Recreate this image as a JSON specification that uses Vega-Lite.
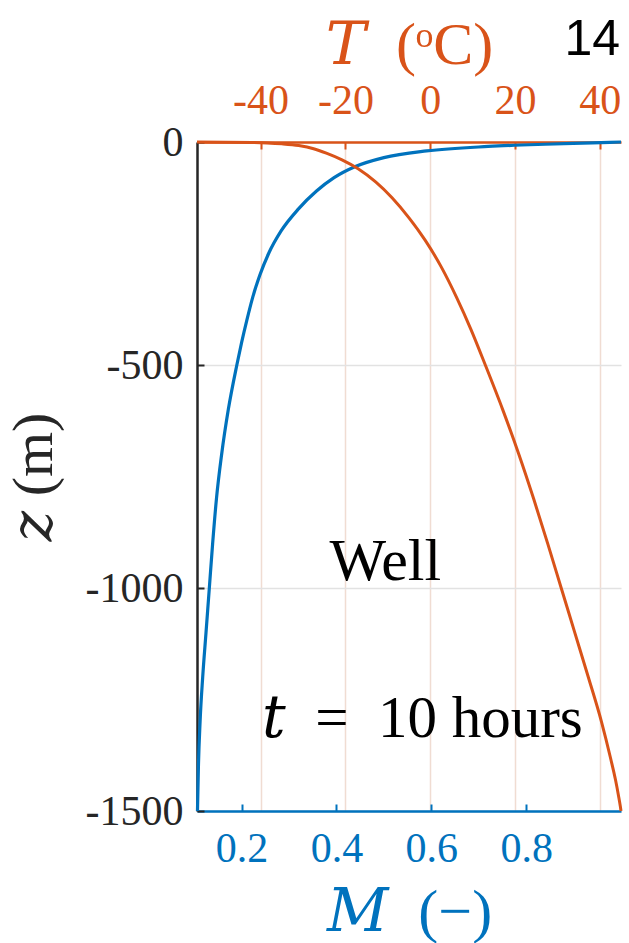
{
  "$schema": "https://vega.github.io/schema/vega-lite/v6.json",
  "width": 424,
  "height": 669,
  "autosize": "none",
  "padding": {"left": 197, "top": 142, "right": 8, "bottom": 132},
  "background": "white",
  "config": {"view": {"stroke": null}, "font": "Liberation Serif"},
  "datasets": {
    "Mprof": [
      {"z": 0, "M": 1.0}, {"z": -2, "M": 0.94}, {"z": -5, "M": 0.84}, {"z": -10, "M": 0.72},
      {"z": -20, "M": 0.59}, {"z": -35, "M": 0.5}, {"z": -55, "M": 0.44}, {"z": -80, "M": 0.395},
      {"z": -110, "M": 0.358}, {"z": -150, "M": 0.32}, {"z": -200, "M": 0.283}, {"z": -250, "M": 0.257},
      {"z": -300, "M": 0.238}, {"z": -350, "M": 0.223}, {"z": -400, "M": 0.211}, {"z": -450, "M": 0.2},
      {"z": -500, "M": 0.19}, {"z": -600, "M": 0.172}, {"z": -700, "M": 0.158}, {"z": -800, "M": 0.147},
      {"z": -900, "M": 0.139}, {"z": -1000, "M": 0.132}, {"z": -1100, "M": 0.125}, {"z": -1200, "M": 0.118},
      {"z": -1300, "M": 0.1125}, {"z": -1400, "M": 0.109}, {"z": -1500, "M": 0.107}
    ],
    "Tprof": [
      {"z": 0, "T": -55}, {"z": -1, "T": -42}, {"z": -2, "T": -38.5}, {"z": -4, "T": -35},
      {"z": -8, "T": -31}, {"z": -15, "T": -27.5}, {"z": -25, "T": -24.5}, {"z": -40, "T": -20.8},
      {"z": -60, "T": -17}, {"z": -90, "T": -12.8}, {"z": -125, "T": -9}, {"z": -170, "T": -5},
      {"z": -220, "T": -1.2}, {"z": -280, "T": 2.6}, {"z": -350, "T": 6.3}, {"z": -420, "T": 9.6},
      {"z": -500, "T": 13.0}, {"z": -600, "T": 17.1}, {"z": -700, "T": 20.9}, {"z": -800, "T": 24.4},
      {"z": -900, "T": 27.7}, {"z": -1000, "T": 30.9}, {"z": -1100, "T": 34.1}, {"z": -1200, "T": 37.3},
      {"z": -1300, "T": 40.4}, {"z": -1380, "T": 42.5}, {"z": -1430, "T": 43.7}, {"z": -1465, "T": 44.4},
      {"z": -1490, "T": 44.85}, {"z": -1500, "T": 45.0}
    ]
  },
  "layer": [
    {
      "layer": [
        {
          "data": {"name": "Mprof"},
          "mark": {"type": "line", "color": "#0072BD", "strokeWidth": 3.2, "interpolate": "monotone"},
          "encoding": {
            "x": {
              "field": "M", "type": "quantitative",
              "scale": {"domain": [0.106, 1.0], "nice": false, "zero": false},
              "axis": {
                "orient": "bottom", "values": [0.2, 0.4, 0.6, 0.8], "format": ".1f", "grid": false,
                "domainColor": "#0072BD", "domainWidth": 2.5, "tickColor": "#0072BD", "tickSize": -7, "tickWidth": 2,
                "labelColor": "#0072BD", "labelFontSize": 42, "labelFont": "Liberation Serif", "labelPadding": 24,
                "title": "𝑀\u2002(−)", "titleColor": "#0072BD", "titleFontSize": 60, "titleFont": "Liberation Serif, DejaVu Serif",
                "titleFontWeight": "normal", "titlePadding": 14
              }
            },
            "y": {
              "field": "z", "type": "quantitative",
              "scale": {"domain": [-1500, 0], "nice": false},
              "axis": {
                "orient": "left", "values": [-1500, -1000, -500, 0], "labelExpr": "datum.value + ''",
                "grid": true, "gridColor": "#e2e2e2", "gridWidth": 1.5,
                "domainColor": "#262626", "domainWidth": 2.5, "tickColor": "#262626", "tickSize": -7, "tickWidth": 2,
                "labelColor": "#262626", "labelFontSize": 42, "labelFont": "Liberation Serif", "labelPadding": 21,
                "title": "𝑧 (m)", "titleColor": "#262626", "titleFontSize": 58, "titleFont": "Liberation Serif, DejaVu Serif",
                "titleFontWeight": "normal", "titlePadding": 22
              }
            },
            "order": {"field": "z", "type": "quantitative", "sort": "ascending"}
          }
        },
        {
          "data": {"values": [{}]},
          "mark": {"type": "text", "font": "Liberation Serif", "fontSize": 60, "align": "center", "baseline": "alphabetic", "color": "black"},
          "encoding": {
            "x": {"datum": 0.503, "type": "quantitative"},
            "y": {"datum": -982, "type": "quantitative"},
            "text": {"value": "Well"}
          }
        },
        {
          "data": {"values": [{}]},
          "mark": {"type": "text", "font": "Liberation Serif, DejaVu Serif", "fontSize": 59, "align": "left", "baseline": "alphabetic", "color": "black"},
          "encoding": {
            "x": {"datum": 0.243, "type": "quantitative"},
            "y": {"datum": -1333, "type": "quantitative"},
            "text": {"value": "𝑡\u2002=\u200210 hours"}
          }
        },
        {
          "data": {"values": [{}]},
          "mark": {"type": "text", "font": "Liberation Sans", "fontSize": 50, "align": "right", "baseline": "alphabetic", "color": "black", "clip": false},
          "encoding": {
            "x": {"datum": 0.998, "type": "quantitative"},
            "y": {"datum": 195, "type": "quantitative"},
            "text": {"value": "14"}
          }
        }
      ]
    },
    {
      "data": {"name": "Tprof"},
      "mark": {"type": "line", "color": "#D95319", "strokeWidth": 3, "interpolate": "monotone"},
      "encoding": {
        "x": {
          "field": "T", "type": "quantitative",
          "scale": {"domain": [-55, 45], "nice": false, "zero": false},
          "axis": {
            "orient": "top", "values": [-40, -20, 0, 20, 40], "labelExpr": "datum.value + ''",
            "grid": true, "gridColor": "#f0dcd2", "gridWidth": 1.5,
            "domainColor": "#D95319", "domainWidth": 2.5, "tickColor": "#D95319", "tickSize": -7, "tickWidth": 2,
            "labelColor": "#D95319", "labelFontSize": 42, "labelFont": "Liberation Serif", "labelPadding": 27,
            "title": "𝑇\u2002(ᵒC)", "titleColor": "#D95319", "titleFontSize": 60, "titleFont": "Liberation Serif, DejaVu Serif",
            "titleFontWeight": "normal", "titlePadding": 3
          }
        },
        "y": {"field": "z", "type": "quantitative"},
        "order": {"field": "z", "type": "quantitative", "sort": "descending"}
      }
    }
  ],
  "resolve": {"scale": {"x": "independent"}}
}
